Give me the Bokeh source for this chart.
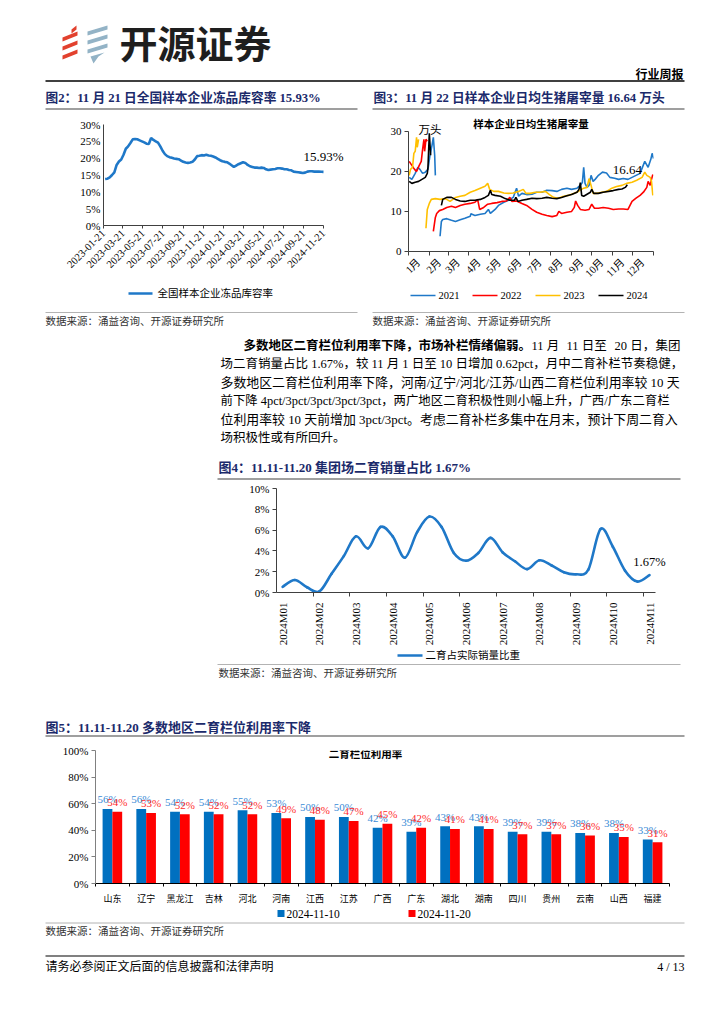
import math
import numpy as np
import pandas as pd
from bokeh.plotting import figure
from bokeh.layouts import column, row
from bokeh.models import Range1d, FixedTicker, ColumnDataSource
from bokeh.core.properties import value
from bokeh.transform import dodge
from bokeh.embed import file_html
from bokeh.resources import INLINE

SERIF = "Liberation Serif"
CJK = "Noto Sans CJK SC"
MIXED = "Liberation Serif, Noto Sans CJK SC"
NAVY = "#1B2A6B"
BLUE = "#1F78C8"

# ---------------- DATA ----------------
title2 = "图2：11 月 21 日全国样本企业冻品库容率 15.93%"
title3 = "图3：11 月 22 日样本企业日均生猪屠宰量 16.64 万头"
title4 = "图4：11.11-11.20 集团场二育销量占比 1.67%"
title5 = "图5：11.11-11.20 多数地区二育栏位利用率下降"
source_txt = "数据来源：涌益咨询、开源证券研究所"

# Fig 2: weekly cold-storage rate (%)
store_ticks = ["2023-01-21", "2023-03-21", "2023-05-21", "2023-07-21", "2023-09-21", "2023-11-21",
               "2024-01-21", "2024-03-21", "2024-05-21", "2024-07-21", "2024-09-21", "2024-11-21"]
store_end = "2024-11-21"
store_rate = [13.8, 13.9, 14.3, 15.0, 15.8, 18.0, 19.0, 19.6, 21.0, 22.8, 23.5, 24.5, 25.6, 25.7, 25.6, 25.3, 25.0, 24.7, 24.3, 24.2,
              26.0, 25.4, 25.0, 24.6, 23.5, 22.2, 21.2, 20.6, 20.3, 20.1, 19.9, 19.8, 19.7, 19.3, 18.9, 18.7, 18.6, 18.7, 18.9, 19.6,
              20.6, 20.7, 20.9, 20.8, 21.0, 20.8, 20.7, 20.5, 20.2, 19.8, 19.4, 19.1, 18.9, 18.8, 18.4, 17.9, 17.4, 17.8, 18.2, 18.5,
              18.8, 18.6, 18.0, 17.6, 17.4, 17.2, 17.2, 17.1, 17.2, 17.1, 16.7, 16.5, 16.6, 16.7, 16.8, 17.0, 17.0, 16.9, 16.7, 16.7,
              16.5, 16.4, 16.0, 15.9, 15.8, 15.7, 15.6, 15.7, 16.0, 16.1, 16.1, 16.0, 16.0, 16.0, 15.95, 15.93]
store_name = "全国样本企业冻品库容率"

# Fig 3: daily slaughter (10k head) by day of year; None = holiday gap
months3 = ["1月", "2月", "3月", "4月", "5月", "6月", "7月", "8月", "9月", "10月", "11月", "12月"]
month_start_days = [0, 31, 59, 90, 120, 151, 181, 212, 243, 273, 304, 334, 365]
days_2021 = [1, 5, 10, 14, 17, 21, 25, 29, 32, 35, 37, 39, 40, None, 47, 49, 51, 57, 64, 70, 77, 84, 92, 93,
             99, 107, 114, 119, 122, 129, 134, 142, 149, 156, 161, 164, 169, 176, 184, 191, 199, 206, 214, 221,
             228, 236, 243, 251, 256, 259, 261, 263, 266, 269, 272, 275, 278, 283, 289, 295, 300, 307, 313, 320,
             327, 333, 339, 345, 352, 357, 361, 363, 365]
vals_2021 = [18.5, 18.0, 19.5, 21.0, 20.5, 19.5, 19.8, 20.5, 24, 26.5, 28.5, 24, 19, None, 3.8, 7.5, 8.0, 8.2, 7.8, 7.5, 7.9, 8.3, 8.8, 9.4,
             9.0, 9.3, 9.5, 10.5, 9.5, 10.5, 11.5, 12.3, 12.8, 13.5, 15.8, 13.8, 14.5, 14.2, 14.3, 14.8, 14.8, 15.3, 15.2, 15.0,
             15.5, 15.8, 15.5, 15.8, 16.5, 17.2, 21.0, 17.0, 16.0, 16.5, 19.0, 17.5, 18.0, 19.0, 19.8, 19.6, 18.5, 18.3, 18.0, 18.2,
             18.0, 18.5, 19.0, 19.5, 22.5, 21.0, 23.0, 24.5, 23.2]
days_2022 = [1, 5, 9, 12, 16, 19, 21, 23, 24, 26, 28, None, 37, 40, 42, 46, 51, 57, 64, 70, 77, 84,
             92, 99, 103, 106, 112, 118, 124, 132, 139, 146, 151, 154, 161, 169, 176, 184, 191, 199, 206, 214,
             221, 224, 228, 236, 243, 247, 249, 252, 256, 263, 269, 273, 277, 283, 290, 298, 305, 313, 320, 327,
             330, 333, 339, 345, 350, 355, 357, 360, 362, 364]
vals_2022 = [22.5, 21.5, 20.5, 20.0, 21.5, 22.5, 25.5, 28.0, 25.0, 28.0, 27.5, None, 5.0, 8.5, 9.5, 10.2, 10.5, 11.0, 11.3, 11.0, 11.5, 11.8,
             12.0, 12.3, 13.0, 10.5, 11.0, 11.8, 12.0, 12.2, 12.5, 12.6, 13.5, 12.5, 12.6, 12.0, 11.5, 10.5, 9.8, 9.3, 9.0, 8.7,
             9.0, 10.0, 9.5, 9.8, 10.0, 11.0, 12.6, 11.5, 10.5, 10.3, 10.5, 11.8, 10.8, 10.8, 11.0, 10.8, 10.5, 10.6, 10.6, 10.5,
             11.5, 12.5, 13.3, 14.0, 14.8, 16.0, 17.5, 16.5, 18.0, 19.2]
days_2023 = [1, 3, 6, 8, 10, 12, 13, 15, None, 26, 28, 31, 34, 40, 47, 55, 62, 70, 77,
             84, 92, 99, 107, 114, 118, 121, 127, 134, 142, 149, 156, 164, 171, 175, 181, 189, 196, 204, 210,
             216, 223, 231, 238, 246, 253, 261, 266, 269, 272, 275, 281, 288, 295, 303, 310, 318, 325, 333, 340,
             348, 352, 355, 360, 362, 364]
vals_2023 = [19.0, 20.5, 21.0, 24.5, 25.0, 28.5, 26.0, 28.0, None, 5.8, 10.5, 12.0, 13.0, 13.2, 13.0, 13.2, 12.5, 13.5, 13.8,
             14.0, 14.8, 15.2, 15.8, 16.3, 17.0, 15.5, 15.0, 15.0, 14.6, 14.5, 14.6, 15.0, 15.5, 14.5, 14.5, 14.8, 14.8, 15.0, 14.2,
             13.5, 13.3, 13.8, 14.0, 14.5, 15.0, 15.8, 16.0, 18.2, 16.5, 14.5, 14.5, 14.8, 15.0, 15.8, 16.2, 16.5, 17.0, 17.3, 17.8,
             18.5, 19.8, 19.0, 18.5, 17.5, 14.0]
days_2024 = [1, 5, 10, 15, 20, 25, 28, 29, 31, 33, None, 49, 51, 57, 64, 70, 77, 84, 92, 99, 107,
             114, 119, 122, 124, 129, 137, 144, 151, 158, 160, 163, 169, 176, 184, 191, 199, 206, 214, 221, 228,
             236, 243, 251, 254, 256, 258, 261, 266, 271, 273, 276, 283, 290, 298, 305, 313, 318, 323, 326]
vals_2024 = [17.5, 17.0, 17.3, 17.5, 18.0, 18.5, 19.5, 21.0, 29.5, 24.0, None, 11.5, 13.0, 13.5, 13.5, 13.0, 12.6, 12.5, 12.8, 12.8, 13.0,
             13.5, 14.0, 15.3, 14.2, 14.0, 13.8, 13.2, 12.8, 12.8, 13.5, 12.5, 12.8, 13.0, 13.3, 13.2, 13.3, 13.5, 13.3, 13.2, 13.5,
             13.9, 14.2, 14.8, 15.5, 17.2, 14.0, 13.8, 14.3, 14.8, 15.5, 14.5, 14.5, 14.8, 15.0, 15.2, 15.5, 15.6, 16.0, 16.64]
years3 = ["2021", "2022", "2023", "2024"]
colors3 = ["#1F78C8", "#FF0000", "#FFC000", "#000000"]
title3_inner = "样本企业日均生猪屠宰量"

# Fig 4: share of 2nd-fattening in sales, 3 points per month
sales_months = ["2024M01", "2024M02", "2024M03", "2024M04", "2024M05", "2024M06",
                "2024M07", "2024M08", "2024M09", "2024M10", "2024M11"]
sales_share = [0.55, 1.2, 0.5, 0.1, 1.8, 3.5, 5.4, 4.25, 6.3, 5.4, 3.35, 5.8, 7.3, 6.3, 3.8, 3.05,
               3.8, 5.25, 3.85, 3.0, 2.25, 3.1, 2.6, 1.95, 1.75, 2.2, 6.1, 4.4, 2.1, 1.05, 1.67]
sales_name = "二育占实际销量比重"

# Fig 5: pen utilisation by province (%)
regions = ["山东", "辽宁", "黑龙江", "吉林", "河北", "河南", "江西", "江苏", "广西",
           "广东", "湖北", "湖南", "四川", "贵州", "云南", "山西", "福建"]
util_1110 = [56, 56, 54, 54, 55, 53, 50, 50, 42, 39, 43, 43, 39, 39, 38, 38, 33]
util_1120 = [54, 53, 52, 52, 52, 49, 48, 47, 45, 42, 41, 41, 37, 37, 36, 35, 31]
series5 = ["2024-11-10", "2024-11-20"]
title5_inner = "二育栏位利用率"

paragraph_bold = "多数地区二育栏位利用率下降，市场补栏情绪偏弱。"
paragraph_first_tail = ["11 月", "11 日至", "20 日，", "集团"]
paragraph_lines = [
    "场二育销量占比 1.67%，较 11 月 1 日至 10 日增加 0.62pct，月中二育补栏节奏稳健，",
    "多数地区二育栏位利用率下降，河南/辽宁/河北/江苏/山西二育栏位利用率较 10 天",
    "前下降 4pct/3pct/3pct/3pct/3pct，两广地区二育积极性则小幅上升，广西/广东二育栏",
    "位利用率较 10 天前增加 3pct/3pct。考虑二育补栏多集中在月末，预计下周二育入",
    "场积极性或有所回升。",
]


# ---------------- helpers ----------------
def strip(y0, y1):
    p = figure(width=708, height=y1 - y0, x_range=Range1d(0, 708), y_range=Range1d(y1, y0),
               output_backend="svg", toolbar_location=None, x_axis_type=None, y_axis_type=None,
               min_border=0)
    p.outline_line_color = None
    p.background_fill_color = "white"
    p.border_fill_color = "white"
    return p


def txt(p, x, y, s, size, font=MIXED, color="#000000", bold=False, align="left", baseline="middle"):
    p.text(x=[x], y=[y], text=[s], text_font=value(font), text_font_size=f"{size}px",
           text_color=color, text_font_style="bold" if bold else "normal",
           text_align=align, text_baseline=baseline)


def hline(p, x0, x1, y, color="#808080", w=1.0):
    p.segment(x0=[x0], y0=[y], x1=[x1], y1=[y], line_color=color, line_width=w)


def chart(w, h, xr, yr, ml, mr, mt, mb):
    p = figure(width=w, height=h, x_range=xr, y_range=yr, output_backend="svg",
               toolbar_location=None, min_border_left=ml, min_border_right=mr,
               min_border_top=mt, min_border_bottom=mb)
    p.grid.visible = False
    p.outline_line_color = None
    p.background_fill_color = "white"
    p.border_fill_color = "white"
    return p


def style_axis(ax, size, font=SERIF, line="#404040"):
    ax.axis_line_color = line
    ax.axis_line_width = 1
    ax.major_tick_line_color = line
    ax.minor_tick_line_color = line
    ax.major_tick_in = 0
    ax.minor_tick_in = 0
    ax.minor_tick_out = 0
    ax.major_tick_out = 3
    ax.major_label_text_font = font
    ax.major_label_text_font_size = size
    ax.major_label_text_color = "#000000"
    ax.major_label_standoff = 3


# ---------------- header strip (page y 0..112) ----------------
hdr = strip(0, 112)
red_logo = [[(62, 37), (77, 31), (77, 35), (62, 41)],
            [(62, 46), (77, 40), (77, 44), (62, 50)],
            [(62, 55), (77, 49), (77, 53), (62, 59)],
            [(71, 29), (76, 25), (76, 29), (71, 33)]]
blue_logo = [[(87, 31), (107, 25), (107, 29), (87, 35)],
             [(87, 40), (107, 34), (107, 38), (87, 44)],
             [(87, 49), (107, 43), (107, 47), (87, 53)],
             [(90, 56), (104, 52), (98, 56), (93, 63)]]
hdr.patches(xs=[[q[0] for q in s] for s in red_logo], ys=[[q[1] for q in s] for s in red_logo],
            fill_color="#E2412E", line_color=None)
hdr.patches(xs=[[q[0] for q in s] for s in blue_logo], ys=[[q[1] for q in s] for s in blue_logo],
            fill_color="#93B3C6", line_color=None)
txt(hdr, 119, 41, "开源证券", 38, font=CJK, bold=True, color="#1E1E1E")
txt(hdr, 683, 73, "行业周报", 12, font=CJK, bold=True, align="right")
hline(hdr, 45, 684, 80.5, "#000000", 1.5)
txt(hdr, 45, 97.5, title2, 12.7, bold=True, color=NAVY)
txt(hdr, 373, 97.5, title3, 12.7, bold=True, color=NAVY)
hline(hdr, 45, 357, 108.5, "#7F7F7F", 1.5)
hline(hdr, 372, 684, 108.5, "#7F7F7F", 1.5)

# ---------------- fig 2 (page x 0..356, y 112..286) ----------------
start2 = pd.Timestamp(store_ticks[0])
tick_days2 = [int((pd.Timestamp(t) - start2).days) for t in store_ticks]
dates2 = pd.date_range(end=store_end, periods=len(store_rate), freq="7D")
x2 = np.array([(d - start2).days for d in dates2], dtype=float)
ml2, mr2, mt2, mb2 = 103, 6, 12, 61
fw2 = 356 - ml2 - mr2
x_end2 = tick_days2[-1] * fw2 / 220.0
p2 = chart(356, 174, Range1d(0, x_end2), Range1d(0, 30), ml2, mr2, mt2, mb2)
p2.line(x2, store_rate, line_color=BLUE, line_width=2.6)
p2.text(x=[x2[-1]], y=[store_rate[-1] + 4.5], text=[f"{store_rate[-1]:.2f}%"],
        text_font=value(SERIF), text_font_size="13px", text_align="center", text_baseline="middle")
style_axis(p2.xaxis[0], "10.5px")
style_axis(p2.yaxis[0], "11px")
p2.xaxis.ticker = FixedTicker(ticks=tick_days2)
p2.xaxis.major_label_overrides = {d: t for d, t in zip(tick_days2, store_ticks)}
p2.xaxis.major_label_orientation = math.pi / 4
p2.xaxis.bounds = (0, tick_days2[-1])
p2.yaxis.ticker = FixedTicker(ticks=list(range(0, 31, 5)))
p2.yaxis.major_label_overrides = {v: f"{v}%" for v in range(0, 31, 5)}
p2.yaxis.major_tick_out = 0

# ---------------- fig 3 (page x 356..708, y 112..286) ----------------
ml3, mr3, mt3, mb3 = 52, 55, 4, 33
fh3 = 174 - mt3 - mb3
p3 = chart(352, 174, Range1d(0, 365), Range1d(0, 30 * fh3 / 122.0), ml3, mr3, mt3, mb3)
for d, v, c in zip([days_2021, days_2022, days_2023, days_2024],
                   [vals_2021, vals_2022, vals_2023, vals_2024], colors3):
    p3.line(np.array(d, dtype=float), np.array(v, dtype=float), line_color=c, line_width=1.6)
p3.text(x=[days_2024[-1]], y=[vals_2024[-1] + 3.7], text=[f"{vals_2024[-1]:.2f}"],
        text_font=value(SERIF), text_font_size="13px", text_align="center", text_baseline="middle")
p3.text(x=[182.5], y=[32.0], text=[title3_inner], text_font=value(CJK), text_font_size="10.5px",
        text_font_style="bold", text_align="center", text_baseline="middle")
p3.text(x=[15], y=[30.6], text=["万头"], text_font=value(CJK), text_font_size="11.5px",
        text_align="left", text_baseline="middle")
style_axis(p3.xaxis[0], "10.5px", font=MIXED)
style_axis(p3.yaxis[0], "11px")
mids3 = [s + 15 for s in month_start_days[:-1]]
p3.xaxis.ticker = FixedTicker(ticks=mids3, minor_ticks=month_start_days)
p3.xaxis.major_label_overrides = {m: t for m, t in zip(mids3, months3)}
p3.xaxis.major_label_orientation = math.pi / 4
p3.xaxis.major_tick_out = 0
p3.xaxis.minor_tick_out = 4
p3.xaxis.major_label_standoff = 5
p3.yaxis.ticker = FixedTicker(ticks=[0, 10, 20, 30])
p3.yaxis.bounds = (0, 30)
p3.yaxis.major_tick_out = 4

# ---------------- strip B (page y 286..480) ----------------
sb = strip(286, 480)
hline(sb, 128, 152, 293, BLUE, 2.6)
txt(sb, 157, 293, store_name, 10.5)
leg_x3 = [410, 472, 535, 598]
for lx, yr_, c in zip(leg_x3, years3, colors3):
    hline(sb, lx, lx + 25, 295, c, 1.6)
    txt(sb, lx + 28, 295, yr_, 10.5, font=SERIF)
hline(sb, 45, 357, 312, "#A0A0A0", 0.8)
hline(sb, 372, 684, 312, "#A0A0A0", 0.8)
txt(sb, 45, 320.5, source_txt, 10.5, color="#333333")
txt(sb, 372, 320.5, source_txt, 10.5, color="#333333")
para_y = [345, 363.5, 382, 400.5, 419, 437.5]
para_size = [12.5, 12.9, 12.4, 12.9, 12.5]
txt(sb, 243, para_y[0], paragraph_bold, 12.5, bold=True)
for sx, seg in zip([531, 566, 614], paragraph_first_tail[:3]):
    txt(sb, sx, para_y[0], seg, 12.5)
txt(sb, 680, para_y[0], paragraph_first_tail[3], 12.5, align="right")
for yy, line, fs in zip(para_y[1:], paragraph_lines, para_size):
    txt(sb, 220, yy, line, fs)
txt(sb, 218, 467, title4, 13, bold=True, color=NAVY)
hline(sb, 217, 680, 478.5, "#7F7F7F", 1.5)

# ---------------- fig 4 (page x 0..708, y 480..648) ----------------
ml4, mr4, mt4, mb4 = 276, 18, 8, 56
step4 = 12.23
fw4 = 708 - ml4 - mr4
p4 = chart(708, 168, Range1d(-0.5, -0.5 + fw4 / step4), Range1d(0, 10), ml4, mr4, mt4, mb4)
n4 = len(sales_share)
P = np.column_stack([np.arange(n4, dtype=float), np.array(sales_share, dtype=float)])
Pe = np.vstack([P[0], P, P[-1]])
c1 = P[:-1] + (Pe[2:n4 + 1] - Pe[0:n4 - 1]) / 6.0
c2 = P[1:] - (Pe[3:n4 + 2] - Pe[1:n4]) / 6.0
p4.bezier(x0=P[:-1, 0], y0=P[:-1, 1], x1=P[1:, 0], y1=P[1:, 1],
          cx0=c1[:, 0], cy0=c1[:, 1], cx1=c2[:, 0], cy1=c2[:, 1],
          line_color=BLUE, line_width=2.6, line_cap="round")
p4.text(x=[n4 - 1], y=[sales_share[-1] + 1.3], text=[f"{sales_share[-1]:.2f}%"],
        text_font=value(SERIF), text_font_size="12.5px", text_align="center", text_baseline="middle")
style_axis(p4.xaxis[0], "11px")
style_axis(p4.yaxis[0], "11px")
lab_idx4 = list(range(0, n4, 3))
p4.xaxis.ticker = FixedTicker(ticks=lab_idx4, minor_ticks=[i + 2.5 for i in range(0, n4 - 1, 3)])
p4.xaxis.major_label_overrides = {i: m for i, m in zip(lab_idx4, sales_months)}
p4.xaxis.major_label_orientation = math.pi / 2
p4.xaxis.major_tick_out = 0
p4.xaxis.minor_tick_out = 4
p4.xaxis.major_label_standoff = 6
p4.xaxis.bounds = (-0.5, n4 - 0.5)
p4.yaxis.ticker = FixedTicker(ticks=list(range(0, 11, 2)))
p4.yaxis.major_label_overrides = {v: f"{v}%" for v in range(0, 11, 2)}
p4.yaxis.major_tick_out = 4

# ---------------- strip C (page y 648..740) ----------------
sc = strip(648, 740)
hline(sc, 397, 422, 655, BLUE, 2.6)
txt(sc, 425, 655, sales_name, 10.5)
hline(sc, 217, 680, 664, "#A0A0A0", 0.8)
txt(sc, 218, 673, source_txt, 10.5, color="#333333")
txt(sc, 45, 727, title5, 13, bold=True, color=NAVY)
hline(sc, 45, 684, 735.5, "#7F7F7F", 1.5)

# ---------------- fig 5 (page x 0..708, y 740..907) ----------------
ml5, mr5, mt5, mb5 = 95, 39, 10, 20
n5 = len(regions)
p5 = chart(708, 167, Range1d(-0.5, n5 - 0.5), Range1d(0, 100), ml5, mr5, mt5, mb5)
src5 = ColumnDataSource(dict(
    x=np.arange(n5, dtype=float), a=util_1110, b=util_1120,
    la=[f"{v}%" for v in util_1110], lb=[f"{v}%" for v in util_1120],
    ya=np.array(util_1110, dtype=float) + 7.3, yb=np.array(util_1120, dtype=float) + 7.3))
p5.vbar(x=dodge("x", -0.145), top="a", width=0.29, source=src5, fill_color="#0070C0", line_color=None)
p5.vbar(x=dodge("x", 0.145), top="b", width=0.29, source=src5, fill_color="#FF0000", line_color=None)
p5.text(x=dodge("x", -0.145), y="ya", text="la", source=src5, text_font=value(SERIF),
        text_font_size="11px", text_color="#3A8BD6", text_align="center", text_baseline="middle")
p5.text(x=dodge("x", 0.145), y="yb", text="lb", source=src5, text_font=value(SERIF),
        text_font_size="11px", text_color="#FF2A2A", text_align="center", text_baseline="middle")
p5.text(x=[(n5 - 2) / 2.0], y=[98], text=[title5_inner], text_font=value(CJK), text_font_size="10.5px",
        text_font_style="bold", text_align="center", text_baseline="middle")
style_axis(p5.xaxis[0], "9px", font=CJK, line="#000000")
style_axis(p5.yaxis[0], "11px", line="#808080")
p5.xaxis.ticker = FixedTicker(ticks=list(range(n5)), minor_ticks=[i - 0.5 for i in range(n5 + 1)])
p5.xaxis.major_label_overrides = {i: r for i, r in enumerate(regions)}
p5.xaxis.major_tick_out = 0
p5.xaxis.minor_tick_out = 3
p5.xaxis.major_label_standoff = 5
p5.yaxis.ticker = FixedTicker(ticks=list(range(0, 101, 20)))
p5.yaxis.major_label_overrides = {v: f"{v}%" for v in range(0, 101, 20)}
p5.yaxis.major_tick_out = 4

# ---------------- strip D (page y 907..1016) ----------------
sd = strip(907, 1016)
sd.rect(x=[280.5, 411.5], y=[913, 913], width=7, height=7, fill_color=["#0070C0", "#FF0000"], line_color=None)
txt(sd, 286, 913, series5[0], 11.5, font=SERIF)
txt(sd, 417, 913, series5[1], 11.5, font=SERIF)
hline(sd, 45, 684, 922.5, "#A0A0A0", 0.8)
txt(sd, 45, 931, source_txt, 10.5, color="#333333")
hline(sd, 45, 684, 955.5, "#808080", 2.2)
txt(sd, 45, 966, "请务必参阅正文后面的信息披露和法律声明", 12)
txt(sd, 684, 966, "4 / 13", 12, font=SERIF, align="right")

# wrap every plot in its own box so that the layout does not align plot frames
layout = column(row(hdr), row(column(p2), column(p3)), row(sb), row(p4), row(sc), row(p5), row(sd))
open("out.html", "w").write(file_html(layout, INLINE))
